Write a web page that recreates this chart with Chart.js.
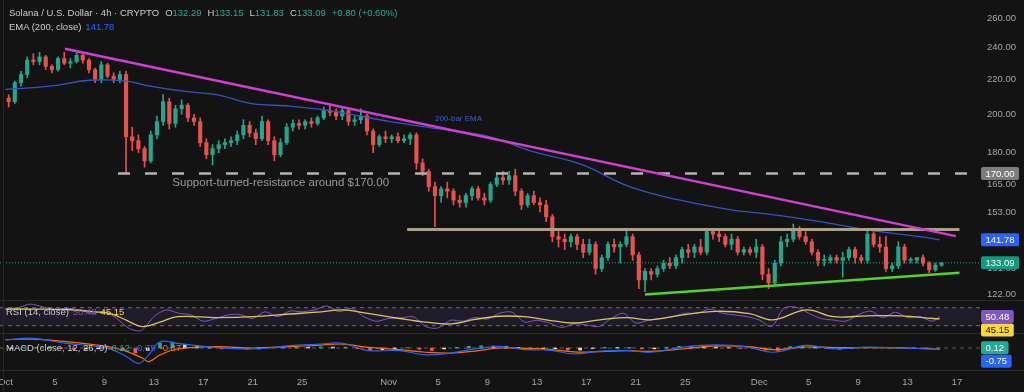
<!DOCTYPE html>
<html>
<head>
<meta charset="utf-8">
<title>Solana / U.S. Dollar 4h</title>
<script src="https://cdn.jsdelivr.net/npm/chart.js@4.4.1/dist/chart.umd.min.js"></script>
<style>
  html, body { margin: 0; padding: 0; background: #131313; }
  #wrap { position: relative; width: 1024px; height: 392px; overflow: hidden; background: #131313; }
  #chart { position: absolute; left: 0; top: 0; }
  .legend { position: absolute; font: 9.5px "Liberation Sans", Arial, sans-serif; color: #c9ccd3; white-space: nowrap; line-height: 12px; }
  .legend span { margin-left: 4px; }
  .legend span.k { margin-left: 6px; }
  .legend span.v { margin-left: 0; }
  .edge { position: absolute; left: 3px; top: 0; width: 1px; height: 392px; background: #262626; }
</style>
</head>
<body>
<div id="wrap">
  <canvas id="chart" width="1024" height="392"></canvas>
  <div class="edge"></div>
  <div class="legend" id="lgMain" style="left:9px; top:7px"></div>
  <div class="legend" id="lgEma" style="left:9px; top:21px"></div>
  <div class="legend" id="lgRsi" style="left:6px; top:306px"></div>
  <div class="legend" id="lgMacd" style="left:6px; top:342px"></div>
</div>
<script>
// 12h candles, x = days since Oct 1
const candleOpen = [
  209, 207, 218, 223, 232, 231, 234, 228, 226, 233, 230, 231, 235, 232, 226, 220, 229, 222, 220, 223,
  188, 186, 182, 176, 189, 196, 207, 195, 203, 205, 198, 196, 185, 179, 182, 184, 185, 186, 189, 194,
  190, 187, 196, 186, 179, 185, 193, 195, 194, 196, 195, 198, 202, 201, 199, 202, 196, 197, 199, 191,
  184, 188, 187, 188, 186, 187, 189, 175, 171, 164, 160, 163, 162, 158, 157, 160, 163, 159, 158, 165,
  168, 167, 169, 162, 156, 160, 157, 156, 151, 143, 142, 141, 143, 140, 137, 140, 131, 135, 140, 139,
  140, 143, 136, 127, 130, 129, 131, 133, 132, 135, 138, 137, 139, 137, 145, 144, 143, 140, 142, 137,
  138, 137, 139, 129, 126, 133, 141, 142, 146, 143, 141, 137, 134, 134, 135, 134, 135, 138, 135, 134,
  144, 140, 139, 131, 132, 139, 134, 134, 135, 133, 130.5, 132.29
];
const candleHigh = [
  211, 219, 225, 234, 236, 237, 235, 229, 234, 237, 233, 237, 236, 233, 227, 231, 230, 224, 225, 225,
  193, 189, 183, 191, 199, 211, 209, 205, 208, 206, 200, 198, 187, 184, 186, 187, 188, 191, 197, 196,
  192, 199, 197, 188, 187, 195, 197, 197, 197, 198, 199, 204, 206, 203, 204, 203, 199, 203, 200, 192,
  189, 191, 189, 190, 189, 190, 190, 177, 172, 166, 164, 166, 163, 160, 161, 164, 164, 161, 166, 170,
  171, 171, 172, 163, 161, 162, 159, 158, 152, 145, 144, 144, 144, 142, 142, 141, 136, 141, 142, 141,
  146, 144, 137, 131, 131, 132, 134, 135, 136, 139, 140, 140, 142, 146, 146, 146, 144, 144, 143, 139,
  139, 142, 140, 131, 134, 143, 144, 148, 147, 145, 142, 138, 136, 136, 136, 137, 139, 139, 136, 146,
  145, 143, 143, 133, 141, 140, 135, 135, 136, 133.5, 133, 133.15
];
const candleLow = [
  204, 206, 216, 221, 229, 229, 226, 224, 225, 229, 227, 230, 230, 224, 218, 218, 221, 218, 218, 170,
  181, 180, 173, 175, 187, 194, 192, 193, 200, 196, 194, 183, 177, 174, 180, 182, 183, 184, 187, 188,
  184, 186, 184, 176, 178, 184, 191, 192, 192, 193, 194, 197, 199, 197, 197, 194, 194, 195, 189, 180,
  183, 185, 185, 185, 185, 184, 172, 169, 162, 147, 157, 159, 156, 155, 155, 158, 158, 156, 157, 164,
  165, 165, 160, 154, 155, 156, 153, 149, 141, 139, 138, 139, 138, 135, 136, 129, 130, 134, 137, 133,
  139, 134, 124, 123, 127, 128, 130, 131, 131, 133, 135, 135, 136, 136, 142, 141, 139, 138, 136, 136,
  136, 135, 127, 124, 125, 132, 139, 141, 142, 140, 136, 132, 132, 133, 133, 128, 134, 133, 133, 133,
  139, 137, 130, 130, 131, 133, 133, 133, 132, 129.5, 130, 131.83
];
const candleClose = [
  207, 218, 223, 232, 231, 234, 228, 226, 233, 230, 231, 235, 232, 226, 220, 229, 222, 220, 223, 188,
  186, 182, 176, 189, 196, 207, 195, 203, 205, 198, 196, 185, 179, 182, 184, 185, 186, 189, 194, 190,
  187, 196, 186, 179, 185, 193, 195, 194, 196, 195, 198, 202, 201, 199, 202, 196, 197, 199, 191, 184,
  188, 187, 188, 186, 187, 189, 175, 171, 164, 160, 163, 162, 158, 157, 160, 163, 159, 158, 165, 168,
  167, 169, 162, 156, 160, 157, 156, 151, 143, 142, 141, 143, 140, 137, 140, 131, 135, 140, 139, 140,
  143, 136, 127, 130, 129, 131, 133, 132, 135, 138, 137, 139, 137, 145, 144, 143, 140, 142, 137, 138,
  137, 139, 129, 126, 133, 141, 142, 146, 143, 141, 137, 134, 134, 135, 134, 135, 138, 135, 134, 144,
  140, 139, 131, 132, 139, 134, 134, 135, 133, 130.5, 132.29, 133.09
];

// 200-bar EMA
const emaDays = [0, 3.6, 6.8, 9.8, 11.7, 14.4, 17.1, 19.8, 23.0, 25.7, 27.9, 31.1, 35.2, 39.2, 42.4, 46.5, 50.5, 54.6, 58.6, 61.9, 65.9, 69.9, 74.0, 75.6];
const emaValues = [214, 216, 219.5, 219, 216, 213, 211, 206, 204.5, 202.5, 200, 196, 192, 188, 181, 174.5, 164, 158, 154, 152, 149, 145.6, 143, 141.78];

// drawn levels
const resistanceDays = [4.81, 76.9];
const resistancePrices = [239.3, 143.2];
const supportDays = [51.75, 77.2];
const supportPrices = [122.0, 129.5];
const rangeTopDays = [32.5, 77.2];
const rangeTopPrices = [145.8, 145.8];
const levelDays = [9.1, 78.86];
const levelPrices = [170, 170];

// RSI (14) daily samples and its moving average
const rsiValues = [
  68.7, 70, 78, 72, 66, 68.7, 65, 57.6, 61, 46, 24, 19.5, 50, 65, 57.6, 54, 40, 46, 54, 55,
  46, 61, 50, 62.5, 61, 65, 74, 61, 68.7, 50, 40, 46, 47, 50, 28, 25, 42, 40, 48, 45,
  58, 60, 38, 42, 36, 26, 34, 32, 28, 46, 57.6, 36, 42, 46, 50, 57.6, 57.6, 67, 57.6, 54,
  50, 42.7, 28, 69, 71, 57.6, 46, 42.7, 40, 54, 62.5, 48, 60, 48, 50, 40
];
const rsiLast = 50.48;
const rsiMaDays = [0, 2.2, 4.9, 7.6, 8.5, 9.8, 11.1, 12.5, 13.9, 17.1, 20, 23, 25.2, 27.3, 29.2, 31.9, 34, 36, 38, 40, 42, 44, 46, 48.1, 50.3, 52.2, 54.8, 57.5, 60.2, 62.1, 64.8, 67, 69.7, 72.4, 75.1, 75.6];
const rsiMaValues = [67, 67, 66, 60, 57, 42, 28, 38, 50, 48, 50, 56, 60, 65, 58, 46, 38, 34, 44, 51, 50, 42, 36, 43, 48, 43, 54, 62, 57, 43, 65, 50, 52, 52, 46, 45.15];
const rsiBands = [70, 30];

// MACD (12, 26, 9)
const macdDays = [0, 2.2, 4.9, 7.6, 8.5, 9.8, 10.8, 11.6, 12.5, 13.9, 17.1, 20, 23, 25.2, 27.3, 29.2, 31.9, 34, 36, 38, 40, 42, 44, 46, 48.1, 50.3, 52.2, 54.8, 57.5, 60.2, 62.1, 64.8, 67, 69.7, 72.4, 75.1, 75.6];
const macdLine = [4.7, 5.7, 2.7, 0.8, -0.6, -5.1, -9, -3.9, 3.7, 2.7, 0.2, -0.6, 1.4, 2.2, 2.8, -1.4, -1.6, -4, -3, -0.5, 1, -1, -1.2, -3.5, -1.8, -1.5, -2.5, 0.5, 1.8, 0.4, -2.5, 1.5, -0.5, 0.5, 0, -0.6, -0.75];
const signalDays = [0, 2.2, 4.9, 7.6, 8.5, 9.8, 11.1, 11.6, 12.5, 13.9, 17.1, 20, 23, 25.2, 27.3, 29.2, 31.9, 34, 36, 38, 40, 42, 44, 46, 48.1, 50.3, 52.2, 54.8, 57.5, 60.2, 62.1, 64.8, 67, 69.7, 72.4, 75.1, 75.6];
const signalLine = [5, 5.2, 3.8, 1.5, 0.6, -2, -6, -8, -4.1, -0.6, 0.8, 0, 0.8, 1.6, 2.3, 0.5, -1, -2.5, -3, -1.8, 0, -0.2, -0.8, -2.3, -2.2, -1.6, -2, -0.6, 1.2, 0.8, -1, 0.6, 0.3, 0.2, 0.1, -0.5, -0.87];
const macdHist = [
  -0.3, 0.3, 0.5, 0.2, -0.4, -0.8, -0.6, -0.5, -0.7, -1.5, -3, -1.5, 3, 3.5, 2, 1, 0.2, -0.5, -0.3, -0.6,
  -0.5, 0.3, 0.5, 0.6, 0.5, 0.6, 0.5, 0.5, -0.4, -1.5, -1, -0.6, 0.2, -0.8, -1.5, -0.6, 0.4, 1, 1.3, 1.1,
  1, 0.3, -0.8, -0.5, -0.4, -1.2, -1.2, -0.3, 0.4, 0.3, 0.1, -0.5, -0.5, 0.5, 1, 1.1, 0.8, 0.6, 0.2, -0.3,
  -0.4, -1.2, -1.5, 0.8, 1.2, 0.6, -0.4, -0.8, -0.2, 0.3, 0.4, -0.1, 0.1, -0.2, -0.1, 0.12
];

// axes
const priceTicks = [122, 131, 153, 165, 180, 200, 220, 240, 260];
const timeTickDays = [0, 4, 8, 12, 16, 20, 24, 31, 35, 39, 43, 47, 51, 55, 61, 65, 69, 73, 77];
const timeTickLabels = ['Oct', '5', '9', '13', '17', '21', '25', 'Nov', '5', '9', '13', '17', '21', '25', 'Dec', '5', '9', '13', '17'];
const xMin = -0.45, xMax = 78.86;

const supportNote = 'Support-turned-resistance around $170.00';
const supportNoteAt = [13.5, 165.7];
const emaNote = '200-bar EMA';
const emaNoteAt = [34.75, 197.4];

const upColor = '#26a48c';
const downColor = '#e4534f';
const FONT = '"Liberation Sans", Arial, sans-serif';

const candleDays = candleClose.map((_, i) => 0.25 + i * 0.5);
const histDays = macdHist.map((_, i) => i + 0.5);
const pts = (xs, ys) => xs.map((x, i) => ({x: x, y: ys[i]}));
const candleColor = c => candleClose[c.dataIndex] >= candleOpen[c.dataIndex] ? upColor : downColor;

const last = candleClose.length - 1;
const fmt = v => v.toFixed(2);
const lastClose = candleClose[last];
const emaLast = emaValues[emaValues.length - 1];
const rsiMaLast = rsiMaValues[rsiMaValues.length - 1];
const histLast = macdHist[macdHist.length - 1];
const macdLast = macdLine[macdLine.length - 1];
const signalLast = signalLine[signalLine.length - 1];

function line(label, data, axis, color, width, extra) {
  return Object.assign({
    type: 'line', label: label, data: data, yAxisID: axis,
    borderColor: color, borderWidth: width, pointRadius: 0, fill: false, tension: 0
  }, extra || {});
}

function drawTag(ctx, x, y, text, bg, fg) {
  ctx.font = '9.5px ' + FONT;
  const w = ctx.measureText(text).width + 9;
  ctx.fillStyle = bg;
  ctx.beginPath();
  ctx.roundRect(x, y - 6.5, w, 13, 2);
  ctx.fill();
  ctx.fillStyle = fg;
  ctx.textAlign = 'left';
  ctx.textBaseline = 'middle';
  ctx.fillText(text, x + 4.5, y + 0.5);
}

const panes = {
  id: 'panes',
  beforeDatasetsDraw(chart) {
    const {ctx, scales} = chart;
    ctx.save();
    ctx.strokeStyle = '#2a2a2a';
    ctx.lineWidth = 1;
    [scales.rsi.top, scales.macd.top, scales.macd.bottom].forEach(y => {
      ctx.beginPath();
      ctx.moveTo(0, Math.round(y) + 0.5);
      ctx.lineTo(chart.width, Math.round(y) + 0.5);
      ctx.stroke();
    });
    ctx.restore();
  },
  afterDatasetsDraw(chart) {
    const {ctx, scales} = chart;
    ctx.save();
    ctx.textAlign = 'left';
    ctx.textBaseline = 'middle';
    ctx.fillStyle = '#9a9a9a';
    ctx.font = '11.5px ' + FONT;
    ctx.fillText(supportNote, scales.x.getPixelForValue(supportNoteAt[0]), scales.y.getPixelForValue(supportNoteAt[1]));
    ctx.fillStyle = '#3d5fd6';
    ctx.font = '8px ' + FONT;
    ctx.fillText(emaNote, scales.x.getPixelForValue(emaNoteAt[0]), scales.y.getPixelForValue(emaNoteAt[1]));
    ctx.restore();
  },
  afterDraw(chart) {
    const {ctx, scales} = chart;
    const x = scales.y.left + 1;
    ctx.save();
    drawTag(ctx, x, scales.y.getPixelForValue(levelPrices[0]), fmt(levelPrices[0]), '#7d7d7d', '#ffffff');
    drawTag(ctx, x, scales.y.getPixelForValue(emaLast), fmt(emaLast), '#2962ff', '#ffffff');
    drawTag(ctx, x, scales.y.getPixelForValue(lastClose), fmt(lastClose), '#12997f', '#ffffff');
    const yr = scales.rsi.getPixelForValue(rsiLast);
    drawTag(ctx, x, yr, fmt(rsiLast), '#7e57c2', '#ffffff');
    drawTag(ctx, x, yr + 13.5, fmt(rsiMaLast), '#fdd835', '#131313');
    const ym = scales.macd.getPixelForValue(histLast);
    drawTag(ctx, x, ym, fmt(histLast), '#22ab94', '#ffffff');
    drawTag(ctx, x, ym + 13.5, fmt(macdLast), '#2962ff', '#ffffff');
    ctx.restore();
  }
};

const hiddenAxis = {
  grid: {display: false, drawTicks: false},
  border: {display: false},
  ticks: {display: false}
};

new Chart(document.getElementById('chart'), {
  type: 'bar',
  data: {
    datasets: [
      line('Resistance', pts(resistanceDays, resistancePrices), 'y', '#d13fd2', 2.5, {order: 1}),
      line('Support', pts(supportDays, supportPrices), 'y', '#55d12a', 2.5, {order: 1}),
      line('Range top', pts(rangeTopDays, rangeTopPrices), 'y', '#a99f8a', 3, {order: 2}),
      line('170 level', pts(levelDays, levelPrices), 'y', '#b3b3b3', 2.5, {order: 2, borderDash: [12, 15]}),
      line('EMA 200', pts(emaDays, emaValues), 'y', '#3553c4', 1.3, {order: 3, tension: 0.4}),
      {
        label: 'Bodies', data: pts(candleDays, candleDays.map((_, i) => [candleOpen[i], candleClose[i]])),
        yAxisID: 'y', backgroundColor: candleColor, barThickness: 3.5, minBarLength: 1, grouped: false, order: 4
      },
      {
        label: 'Wicks', data: pts(candleDays, candleDays.map((_, i) => [candleLow[i], candleHigh[i]])),
        yAxisID: 'y', backgroundColor: candleColor, barThickness: 1, grouped: false, order: 5
      },
      line('Last price', pts([xMin, xMax], [lastClose, lastClose]), 'y', '#22ab94', 1, {order: 6, borderDash: [1, 2]}),

      line('RSI', pts(rsiValues.map((_, i) => i).concat([75.6]), rsiValues.concat([rsiLast])), 'rsi', '#7e57c2', 1, {order: 2, tension: 0.3}),
      line('RSI MA', pts(rsiMaDays, rsiMaValues), 'rsi', '#d9c75a', 1.3, {order: 1, tension: 0.4}),
      line('RSI upper', pts([xMin, xMax], [rsiBands[0], rsiBands[0]]), 'rsi', '#6f6f78', 1, {order: 7, borderDash: [4, 4]}),
      line('RSI lower', pts([xMin, xMax], [rsiBands[1], rsiBands[1]]), 'rsi', '#6f6f78', 1,
        {order: 7, borderDash: [4, 4], fill: {value: rsiBands[0]}, backgroundColor: 'rgba(126, 87, 194, 0.12)'}),

      line('MACD', pts(macdDays, macdLine), 'macd', '#2962ff', 1.2, {order: 1, tension: 0.4}),
      line('Signal', pts(signalDays, signalLine), 'macd', '#ff6d00', 1.2, {order: 2, tension: 0.4}),
      {
        label: 'Histogram', data: pts(histDays, macdHist), yAxisID: 'macd', barThickness: 3, grouped: false, order: 3,
        backgroundColor: c => {
          const i = c.dataIndex, v = macdHist[i], p = i > 0 ? macdHist[i - 1] : v;
          if (v >= 0) return v >= p ? '#26a69a' : '#b2dfdb';
          return v < p ? '#ff5252' : '#ffcdd2';
        }
      },
      line('Zero', pts([xMin, xMax], [0, 0]), 'macd', '#5c5c63', 1, {order: 7, borderDash: [4, 4]})
    ]
  },
  options: {
    responsive: false,
    animation: false,
    layout: {padding: 0, autoPadding: false},
    plugins: {
      legend: {display: false},
      tooltip: {enabled: false}
    },
    scales: {
      x: {
        type: 'linear',
        position: 'bottom',
        offset: false,
        min: xMin,
        max: xMax,
        grid: {display: false, drawTicks: false, offset: false},
        border: {display: false},
        ticks: {
          autoSkip: false,
          maxRotation: 0,
          padding: 7,
          color: '#a3a6ad',
          font: {size: 9.5, family: FONT},
          callback: (value, index) => timeTickLabels[index]
        },
        afterBuildTicks: scale => { scale.ticks = timeTickDays.map(v => ({value: v})); },
        afterFit: scale => { scale.height = 22; scale.paddingLeft = 0; scale.paddingRight = 0; }
      },
      y: {
        type: 'logarithmic',
        position: 'right',
        stack: 'panes',
        stackWeight: 300,
        min: 120.2,
        max: 273.5,
        grid: {display: false, drawTicks: false},
        border: {display: false},
        ticks: {
          padding: 7,
          color: '#a3a6ad',
          font: {size: 9.5, family: FONT},
          callback: v => Number(v).toFixed(2)
        },
        afterBuildTicks: scale => { scale.ticks = priceTicks.map(v => ({value: v})); },
        afterFit: scale => { scale.width = 44; scale.paddingTop = 0; scale.paddingBottom = 0; }
      },
      rsi: Object.assign({
        type: 'linear', position: 'right', stack: 'panes', stackWeight: 33, min: 13.8, max: 87.1,
        afterFit: scale => { scale.width = 44; }
      }, hiddenAxis),
      macd: Object.assign({
        type: 'linear', position: 'right', stack: 'panes', stackWeight: 37, min: -12.94, max: 8.82,
        afterFit: scale => { scale.width = 44; }
      }, hiddenAxis)
    }
  },
  plugins: [panes]
});

const o = candleOpen[last], h = candleHigh[last], l = candleLow[last];
const chg = lastClose - o;
const up = t => '<span class="v" style="color:#22ab94">' + t + '</span>';
document.getElementById('lgMain').innerHTML =
  'Solana / U.S. Dollar · 4h · CRYPTO' +
  '<span class="k">O</span>' + up(fmt(o)) +
  '<span class="k">H</span>' + up(fmt(h)) +
  '<span class="k">L</span>' + up(fmt(l)) +
  '<span class="k">C</span>' + up(fmt(lastClose)) +
  '<span class="k" style="color:#22ab94">+' + fmt(chg) + ' (+' + fmt(chg / o * 100) + '%)</span>';
document.getElementById('lgEma').innerHTML =
  'EMA (200, close)<span style="color:#2962ff">' + fmt(emaLast) + '</span>';
document.getElementById('lgRsi').innerHTML =
  'RSI (14, close)<span style="color:#7e57c2">' + fmt(rsiLast) + '</span>' +
  '<span style="color:#f2d64b">' + fmt(rsiMaLast) + '</span>';
document.getElementById('lgMacd').innerHTML =
  'MACD (close, 12, 26, 9)<span style="color:#22ab94">' + fmt(histLast) + '</span>' +
  '<span style="color:#2962ff">' + fmt(macdLast) + '</span>' +
  '<span style="color:#ff6d00">' + fmt(signalLast) + '</span>';
</script>
</body>
</html>
